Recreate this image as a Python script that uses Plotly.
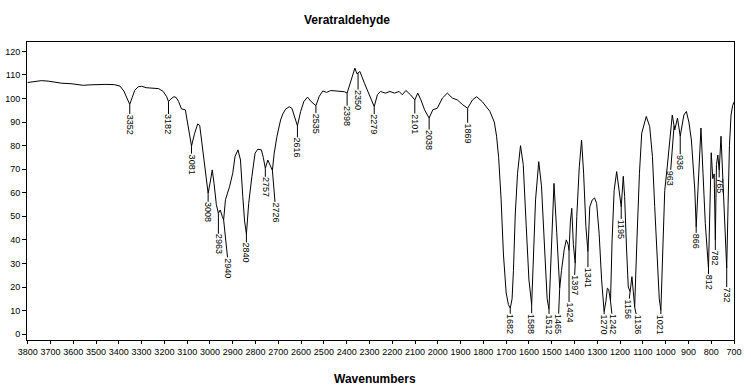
import numpy as np
import plotly.graph_objects as go

# ---------------- data ----------------
WAVENUMBER = [
    3800, 3770, 3740, 3710, 3680, 3650, 3610, 3580, 3555, 3530, 3500, 3460, 3420, 3395, 3378, 3365,
    3352, 3342, 3330, 3315, 3300, 3280, 3250, 3225, 3205, 3190, 3182, 3172, 3158, 3148, 3138, 3125,
    3108, 3098, 3081, 3068, 3054, 3045, 3034, 3022, 3014, 3008, 2998, 2990, 2982, 2972, 2963, 2955,
    2946, 2940, 2932, 2922, 2914, 2900, 2890, 2877, 2866, 2856, 2848, 2840, 2830, 2816, 2802, 2790,
    2774, 2766, 2757, 2746, 2736, 2726, 2718, 2706, 2690, 2680, 2668, 2652, 2640, 2628, 2616, 2602,
    2588, 2572, 2556, 2535, 2520, 2505, 2488, 2470, 2450, 2425, 2410, 2398, 2385, 2372, 2364, 2355,
    2350, 2342, 2322, 2300, 2279, 2265, 2252, 2230, 2210, 2190, 2170, 2156, 2140, 2120, 2101, 2088,
    2074, 2058, 2038, 2022, 2002, 1980, 1958, 1936, 1914, 1890, 1869, 1848, 1830, 1805, 1793, 1771,
    1752, 1742, 1733, 1722, 1712, 1700, 1690, 1682, 1674, 1668, 1660, 1650, 1637, 1625, 1612, 1600,
    1588, 1580, 1571, 1557, 1545, 1530, 1520, 1512, 1503, 1490, 1478, 1468, 1465, 1457, 1445, 1436,
    1428, 1424, 1418, 1412, 1405, 1397, 1390, 1379, 1369, 1360, 1350, 1341, 1333, 1322, 1312, 1303,
    1292, 1281, 1274, 1270, 1262, 1256, 1250, 1242, 1235, 1226, 1215, 1207, 1195, 1186, 1180, 1172,
    1164, 1156, 1148, 1142, 1136, 1126, 1115, 1105, 1085, 1070, 1058, 1048, 1038, 1028, 1021, 1014,
    1004, 993, 982, 971, 960, 948, 936, 920, 909, 898, 887, 872, 866, 856, 845, 836,
    826, 812, 806, 800, 793, 787, 782, 777, 771, 765, 757, 748, 740, 732, 726, 720,
    713, 706, 700,
]
TRANSMITTANCE = [
    106.8, 107.2, 107.6, 107.4, 107.0, 106.5, 106.3, 106.0, 105.6, 105.8, 106.0, 106.0, 105.9, 105.3, 103.2, 100.5,
    97.5, 100.3, 103.5, 105.0, 105.2, 104.6, 104.4, 104.2, 103.0, 100.8, 98.7, 99.8, 100.8, 100.4, 98.8, 95.6,
    95.2, 89.0, 79.8, 85.0, 89.2, 88.6, 80.0, 70.0, 62.0, 59.8, 65.0, 69.7, 64.0, 55.0, 51.3, 52.7,
    50.0, 48.5, 57.0, 60.0, 62.6, 68.3, 75.4, 78.2, 73.9, 58.4, 48.0, 42.5, 55.5, 66.9, 76.8, 78.5,
    78.2, 75.0, 70.4, 73.9, 71.8, 69.5, 76.8, 83.9, 90.9, 93.5, 95.5, 96.5, 95.8, 92.0, 88.4, 94.5,
    98.7, 100.6, 98.7, 97.0, 101.0, 103.2, 102.6, 103.4, 103.2, 103.0, 102.9, 102.3, 106.0, 110.5, 112.9, 110.5,
    110.8, 111.5, 106.5, 101.6, 96.6, 101.6, 103.0, 102.3, 103.0, 102.3, 103.0, 101.6, 103.4, 101.6, 99.4, 102.3,
    99.4, 95.2, 91.7, 95.2, 95.9, 100.2, 102.3, 100.2, 99.4, 97.3, 95.9, 99.4, 100.8, 98.7, 97.3, 94.5,
    90.0, 84.0, 75.0, 57.0, 34.0, 17.5, 12.5, 11.0, 15.0, 27.0, 51.0, 68.3, 80.0, 72.0, 46.0, 23.0,
    12.5, 33.0, 57.0, 73.2, 63.0, 34.0, 15.0, 10.5, 33.0, 64.0, 43.0, 22.0, 19.5, 27.0, 36.0, 40.0,
    38.0, 35.5, 48.0, 53.4, 38.0, 30.0, 50.0, 71.0, 82.4, 68.3, 45.6, 35.0, 54.0, 57.0, 57.8, 55.5,
    42.8, 23.0, 12.0, 9.5, 14.0, 19.5, 19.0, 14.0, 40.0, 61.0, 69.0, 62.6, 54.0, 67.0, 58.4, 37.0,
    20.0, 18.0, 24.4, 18.0, 11.5, 40.0, 68.3, 85.3, 92.4, 88.1, 75.4, 54.1, 32.9, 15.0, 10.0, 33.0,
    61.0, 71.0, 82.0, 93.0, 86.7, 91.7, 84.0, 93.0, 94.5, 90.0, 82.4, 61.2, 45.5, 65.0, 87.5, 68.3,
    47.0, 28.0, 56.0, 77.0, 66.0, 68.0, 40.0, 72.0, 76.0, 69.5, 84.0, 62.0, 40.0, 28.0, 55.0, 80.0,
    93.0, 97.0, 98.5,
]
PEAK_LABELS = [
    3352, 3182, 3081, 3008, 2963, 2940, 2840, 2757, 2726, 2616, 2535, 2398, 2350, 2279, 2101, 2038,
    1869, 1682, 1588, 1512, 1465, 1424, 1397, 1341, 1270, 1242, 1195, 1156, 1136, 1021, 963, 936,
    866, 812, 782, 765, 732,
]
X_TICKS = list(range(3800, 699, -100))
Y_TICKS = list(range(0, 121, 10))

TITLE = "Veratraldehyde"
X_TITLE = "Wavenumbers"

# ---------------- label placement (style: pixel offsets of label centre from peak) ----------------
LABEL_OFFSET_PX = {
    3352: (0, 20), 3182: (0, 23), 3081: (0, 18), 3008: (0, 19), 2963: (0, 31), 2940: (5, 48),
    2840: (0, 19), 2757: (0, 19), 2726: (3.5, 42), 2616: (0, 22), 2535: (0, 18), 2398: (0, 23),
    2350: (0, 27), 2279: (0, 18), 2101: (0, 24), 2038: (0, 22), 1869: (0, 25), 1682: (0, 16),
    1588: (0, 19), 1512: (0, 15), 1465: (-1.5, 36), 1424: (0, 62), 1397: (-1, 22), 1341: (0, 26),
    1270: (0, 13), 1242: (2.5, 23), 1195: (0, 22), 1156: (-2, 17), 1136: (3.5, 17), 1021: (0, 14),
    963: (-4, 52), 936: (0, 26), 866: (0, 14), 812: (0, 14), 782: (0, 18), 765: (0, 15),
    732: (0, 27),
}

FONT = "Liberation Sans, Arial, sans-serif"

fig = go.Figure()
fig.add_trace(go.Scatter(
    x=WAVENUMBER, y=TRANSMITTANCE, mode="lines",
    line=dict(color="black", width=1), hoverinfo="x+y", showlegend=False,
))

wn_asc = np.array(WAVENUMBER[::-1], dtype=float)
t_asc = np.array(TRANSMITTANCE[::-1], dtype=float)
annotations = []
for pk in PEAK_LABELS:
    yv = float(np.interp(pk, wn_asc, t_asc))
    dx, dy = LABEL_OFFSET_PX[pk]
    annotations.append(dict(
        x=pk, y=yv, xref="x", yref="y", text=str(pk), textangle=90,
        showarrow=True, arrowhead=0, arrowwidth=1, arrowcolor="black",
        standoff=0, startstandoff=0, ax=dx, ay=dy,
        font=dict(family=FONT, size=9, color="black"), borderpad=0,
    ))

annotations.append(dict(
    text="<b>" + X_TITLE + "</b>", xref="paper", yref="paper",
    x=0.4925, y=-0.131, xanchor="center", yanchor="middle", showarrow=False,
    font=dict(family=FONT, size=12, color="black"),
))
annotations.append(dict(
    text="<b>" + TITLE + "</b>", xref="paper", yref="paper",
    x=0.452, y=1.075, xanchor="center", yanchor="middle", showarrow=False,
    font=dict(family=FONT, size=12, color="black"),
))

fig.update_layout(
    width=751, height=389,
    margin=dict(l=27, r=17, t=42, b=49, pad=0),
    paper_bgcolor="white", plot_bgcolor="white",
    annotations=annotations,
    xaxis=dict(
        range=[3803, 700], tickvals=X_TICKS, ticktext=[str(v) for v in X_TICKS],
        tickangle=0, automargin=False,
        ticks="outside", ticklen=3, tickcolor="black", tickwidth=1,
        showline=True, linecolor="black", linewidth=1, mirror=True,
        showgrid=False, zeroline=False,
        tickfont=dict(family=FONT, size=9, color="black"),
    ),
    yaxis=dict(
        range=[-2.5, 124], tickvals=Y_TICKS, ticks="outside", ticklen=4,
        tickcolor="black", tickwidth=1, automargin=False,
        showline=True, linecolor="black", linewidth=1, mirror=True,
        showgrid=False, zeroline=False,
        tickfont=dict(family=FONT, size=9, color="black"),
    ),
)

fig.write_html(
    "out.html",
    config={"displayModeBar": False},
    post_script="document.body.style.margin='0px';document.body.style.padding='0px';",
)
